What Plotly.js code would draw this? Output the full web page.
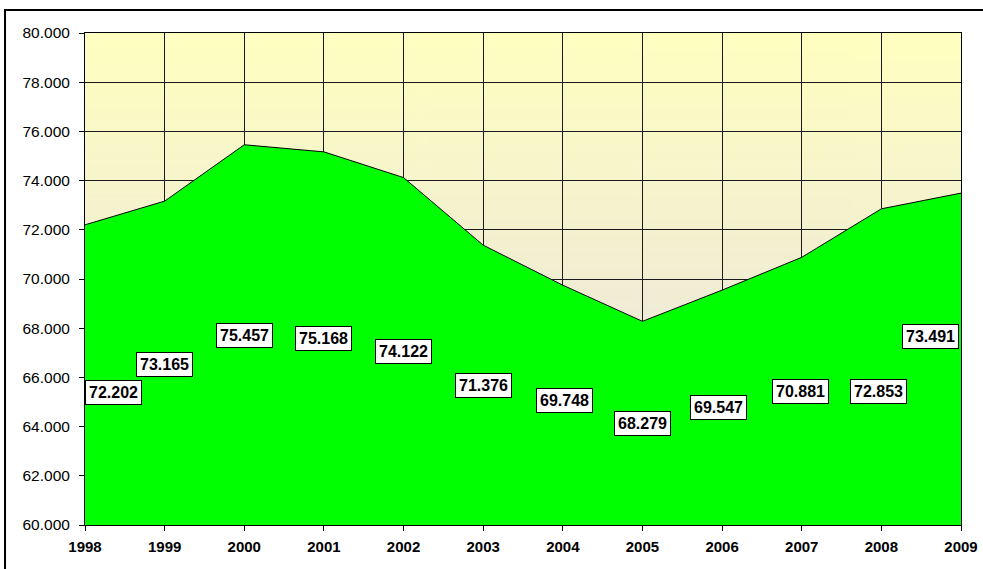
<!DOCTYPE html>
<html>
<head>
<meta charset="utf-8">
<script src="https://cdn.plot.ly/plotly-3.0.1.min.js"></script>
<style>
html,body{margin:0;padding:0;background:#fff;}
#chart{width:983px;height:569px;}
</style>
</head>
<body>
<div id="chart"></div>
<script>
// Data
var years = [1998, 1999, 2000, 2001, 2002, 2003, 2004, 2005, 2006, 2007, 2008, 2009];
var values = [72.202, 73.165, 75.457, 75.168, 74.122, 71.376, 69.748, 68.279, 69.547, 70.881, 72.853, 73.491];
var valueLabels = ["72.202", "73.165", "75.457", "75.168", "74.122", "71.376", "69.748", "68.279", "69.547", "70.881", "72.853", "73.491"];
var yTicks = [60, 62, 64, 66, 68, 70, 72, 74, 76, 78, 80];
var yTickLabels = ["60.000", "62.000", "64.000", "66.000", "68.000", "70.000", "72.000", "74.000", "76.000", "78.000", "80.000"];

// Label placement (as in the original)
var labelY = [65.39, 66.54, 67.70, 67.57, 67.04, 65.66, 65.05, 64.13, 64.76, 65.41, 65.41, 67.66];
var labelShiftX = [28.5, 0, 0, 0, 0, 0, 2, 0, -4, -1, -2.6, -30.5];

// gradient background image
var cv = document.createElement('canvas');
cv.width = 4; cv.height = 256;
var ctx = cv.getContext('2d');
var g = ctx.createLinearGradient(0, 0, 0, 256);
g.addColorStop(0, '#FFFFC0');
g.addColorStop(1, '#E4DDE6');
ctx.fillStyle = g;
ctx.fillRect(0, 0, 4, 256);
var bgUrl = cv.toDataURL('image/png');

var trace = {
  x: years,
  y: values,
  type: 'scatter',
  mode: 'lines',
  fill: 'tozeroy',
  fillcolor: '#00FF00',
  line: {color: '#000000', width: 1},
  hoverinfo: 'skip'
};

var annotations = years.map(function (yr, i) {
  return {
    x: yr, y: labelY[i], xref: 'x', yref: 'y',
    text: '<b>' + valueLabels[i] + '</b>',
    showarrow: false,
    xshift: labelShiftX[i],
    font: {family: 'Liberation Sans, Arial, sans-serif', size: 16, color: '#000'},
    bgcolor: '#FFFFFF', bordercolor: '#000000', borderwidth: 1, borderpad: 3
  };
});

var layout = {
  width: 983, height: 569,
  margin: {l: 85, r: 22, t: 33, b: 44},
  paper_bgcolor: '#FFFFFF',
  plot_bgcolor: '#FFFFC0',
  showlegend: false,
  font: {family: 'Liberation Sans, Arial, sans-serif', color: '#000'},
  xaxis: {
    range: [1998, 2009], tickmode: 'array', tickvals: years,
    ticktext: years.map(function (y) { return '<b>' + y + '</b>'; }),
    ticks: 'outside', ticklen: 5, tickcolor: '#000', tickwidth: 1,
    showgrid: true, gridcolor: '#1a1a1a', gridwidth: 1,
    showline: true, linecolor: '#000', linewidth: 1, mirror: true,
    zeroline: false, tickfont: {size: 15, color: '#000'}, ticklabelstandoff: 3,
    fixedrange: true
  },
  yaxis: {
    range: [60, 80], tickmode: 'array', tickvals: yTicks, ticktext: yTickLabels,
    ticks: 'outside', ticklen: 5, tickcolor: '#000', tickwidth: 1,
    showgrid: true, gridcolor: '#1a1a1a', gridwidth: 1,
    showline: true, linecolor: '#000', linewidth: 1, mirror: true,
    zeroline: false, tickfont: {size: 15.5, color: '#000'}, ticklabelstandoff: 6,
    fixedrange: true
  },
  images: [{
    source: bgUrl, xref: 'x', yref: 'y', x: 1998, y: 80, sizex: 11, sizey: 20,
    sizing: 'stretch', xanchor: 'left', yanchor: 'top', layer: 'below'
  }],
  shapes: [{
    type: 'rect', xref: 'paper', yref: 'paper',
    x0: -0.0913, x1: 1.03, y0: -0.095, y1: 1.0467,
    line: {color: '#000', width: 2}, fillcolor: 'rgba(0,0,0,0)'
  }],
  annotations: annotations
};

Plotly.newPlot('chart', [trace], layout, {displayModeBar: false, staticPlot: true});
</script>
</body>
</html>
